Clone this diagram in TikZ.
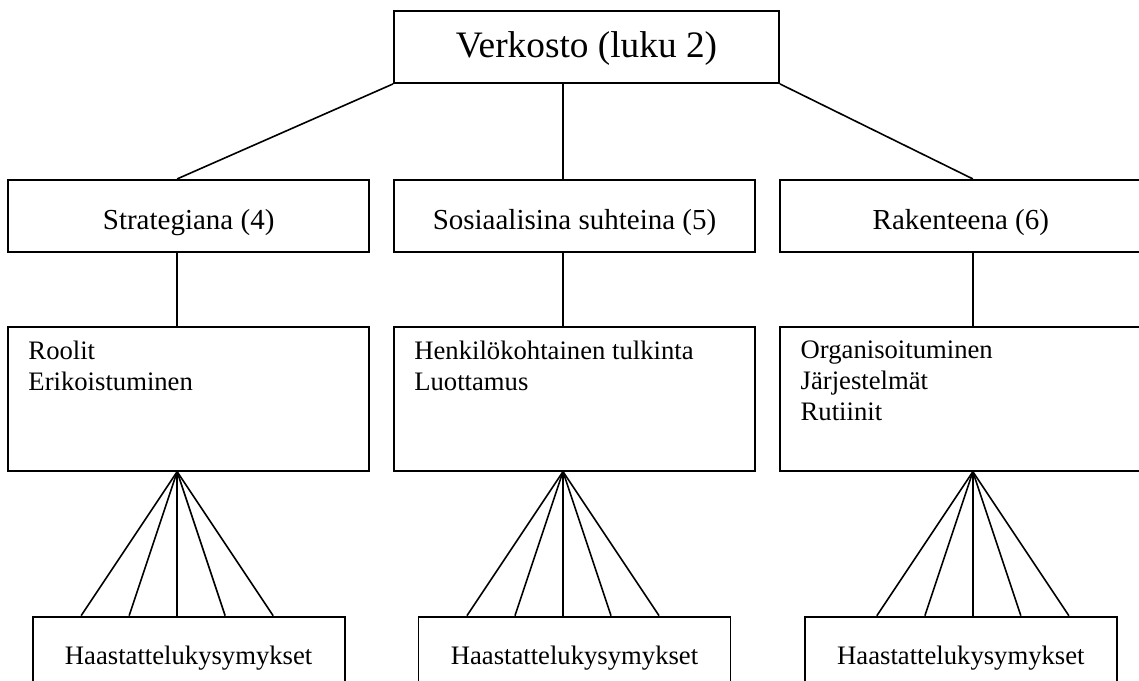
\documentclass[tikz,border=0pt]{standalone}
\usepackage{fontspec}
\setmainfont{Liberation Serif}
\usetikzlibrary{positioning,calc}
\newdimen\pxu
\pxu=0.75pt

\begin{document}
\begin{tikzpicture}[
  x=\pxu, y=-\pxu,
  box/.style={draw, line width=1.4pt, inner sep=0pt, align=center},
  topbox/.style={box, minimum width=385\pxu, minimum height=72\pxu,
                 font=\fontsize{28}{33}\selectfont, text height=16.5pt, text depth=0pt},
  catbox/.style={box, minimum width=361\pxu, minimum height=72\pxu,
                 font=\fontsize{21.75}{26}\selectfont, text height=21pt, text depth=0pt},
  listbox/.style={box, minimum width=361\pxu, minimum height=144\pxu},
  listtxt/.style={anchor=north west, inner sep=0pt, align=left, font=\fontsize{20}{23.25}\selectfont},
  qbox/.style={box, minimum width=312\pxu, minimum height=96\pxu,
               font=\fontsize{20}{23.25}\selectfont, text height=10pt, text depth=10pt},
  link/.style={line width=1.2pt}
]
\useasboundingbox (0,0) rectangle (1139,681);
\clip (0,0) rectangle (1139,681);

\node[topbox] (top) at (586.5,47) {Verkosto (luku 2)};
\node[catbox, below=95\pxu of top, xshift=-12\pxu] (sos) {Sosiaalisina suhteina (5)};
\node[catbox, left=23\pxu of sos] (strat) {Strategiana (4)};
\node[catbox, right=23.5\pxu of sos] (rak) {Rakenteena (6)};

\node[listbox, below=73\pxu of strat] (strat-list) {};
\node[listbox, below=73\pxu of sos] (sos-list) {};
\node[listbox, below=73\pxu of rak] (rak-list) {};
\node[listtxt] (strat-txt) at ([xshift=21\pxu, yshift=-15\pxu]strat-list.north west) {Roolit\\Erikoistuminen};
\node[listtxt] (sos-txt) at ([xshift=21\pxu, yshift=-15\pxu]sos-list.north west) {Henkilökohtainen tulkinta\\Luottamus};
\node[listtxt] (rak-txt) at ([xshift=21\pxu, yshift=-15\pxu]rak-list.north west) {Organisoituminen\\Järjestelmät\\Rutiinit};

\node[qbox, below=144\pxu of strat-list] (strat-q) {Haastattelukysymykset};
\node[qbox, below=144\pxu of sos-list] (sos-q) {Haastattelukysymykset};
\node[qbox, below=144\pxu of rak-list] (rak-q) {Haastattelukysymykset};

\coordinate (hubS) at ([xshift=-11.5\pxu]strat-list.south);
\coordinate (hubM) at ([xshift=-11.5\pxu]sos-list.south);
\coordinate (hubR) at ([xshift=12\pxu]rak-list.south);

\draw[link] (top.south west) -- (hubS |- strat.north);
\draw[link] (hubM |- top.south) -- (hubM |- sos.north);
\draw[link] (top.south east) -- (hubR |- rak.north);

\foreach \c/\h in {strat/hubS, sos/hubM, rak/hubR} {
  \draw[link] (\h |- \c.south) -- (\h |- \c-list.north);
  \foreach \k in {-2,...,2}
    \draw[link] (\h) -- ($(\h |- \c-q.north)+(48*\k,0)$);
}
\end{tikzpicture}
\end{document}
